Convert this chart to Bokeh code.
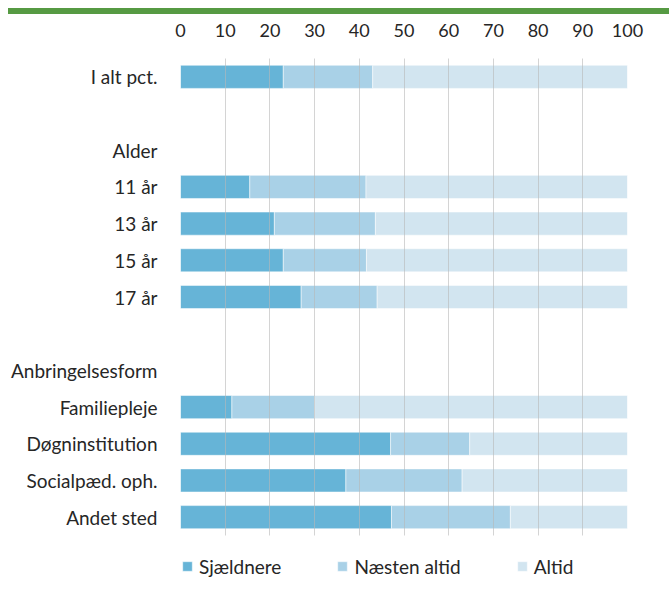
from bokeh.plotting import figure
from bokeh.models import ColumnDataSource, FactorRange, Legend, LegendItem, Div, FixedTicker
from bokeh.layouts import column
from bokeh.embed import file_html
from bokeh.resources import INLINE

rows = ["I alt pct.", " ", "Alder", "11 år", "13 år", "15 år", "17 år", "  ",
        "Anbringelsesform", "Familiepleje", "Døgninstitution", "Socialpæd. oph.", "Andet sted"]
bar_rows = ["I alt pct.", "11 år", "13 år", "15 år", "17 år",
            "Familiepleje", "Døgninstitution", "Socialpæd. oph.", "Andet sted"]
series = ["Sjældnere", "Næsten altid", "Altid"]
sjaeldnere = [23.0, 15.5, 21.0, 23.0, 27.0, 11.5, 47.0, 37.0, 47.2]
naesten_altid = [20.0, 26.0, 22.6, 18.6, 17.0, 18.5, 17.7, 26.0, 26.6]
altid = [57.0, 58.5, 56.4, 58.4, 56.0, 70.0, 35.3, 37.0, 26.2]
x_ticks = [0, 10, 20, 30, 40, 50, 60, 70, 80, 90, 100]
colors = ["#66b4d7", "#a9d1e7", "#d2e5f0"]

FONT = "Lato"
TXT = "#262626"

source = ColumnDataSource(dict(row=bar_rows, s1=sjaeldnere, s2=naesten_altid, s3=altid))

p = figure(y_range=FactorRange(factors=list(reversed(rows))), x_range=(0, 100),
           frame_width=447, frame_height=477, x_axis_location="above",
           output_backend="svg", toolbar_location=None,
           min_border_left=180, min_border_right=34, min_border_top=44, min_border_bottom=10)
p.outline_line_color = None

renderers = p.hbar_stack(["s1", "s2", "s3"], y="row", height=0.63, color=colors,
                         line_color="white", line_alpha=0.5, line_width=1, source=source)

p.xaxis.ticker = FixedTicker(ticks=x_ticks)
p.xaxis.axis_line_color = None
p.xaxis.major_tick_line_color = None
p.xaxis.minor_tick_line_color = None
p.xaxis.major_label_standoff = 16
p.xaxis.major_label_text_font = FONT
p.xaxis.major_label_text_font_size = "18px"
p.xaxis.major_label_text_color = TXT

p.yaxis.axis_line_color = None
p.yaxis.major_tick_line_color = None
p.yaxis.major_label_standoff = 17
p.yaxis.major_label_text_font = FONT
p.yaxis.major_label_text_font_size = "19px"
p.yaxis.major_label_text_color = TXT

p.ygrid.grid_line_color = None
p.xgrid.grid_line_color = "#b8b8b8"
p.xgrid.grid_line_alpha = 0.6
p.xgrid.level = "overlay"

legend = Legend(items=[LegendItem(label=s, renderers=[r]) for s, r in zip(series, renderers)],
                orientation="horizontal", location="top_left",
                glyph_width=12, glyph_height=12, label_standoff=6, spacing=55,
                label_height=60,
                label_text_font=FONT, label_text_font_size="19px", label_text_color=TXT,
                border_line_color=None, background_fill_alpha=0, padding=0, margin=1)
p.add_layout(legend, "below")

bar = Div(text="", width=661, height=6, margin=(8, 0, 0, 8),
          styles={"background-color": "#569a43"})
layout = column(bar, p, spacing=0)

open("out.html", "w").write(file_html(layout, INLINE))
